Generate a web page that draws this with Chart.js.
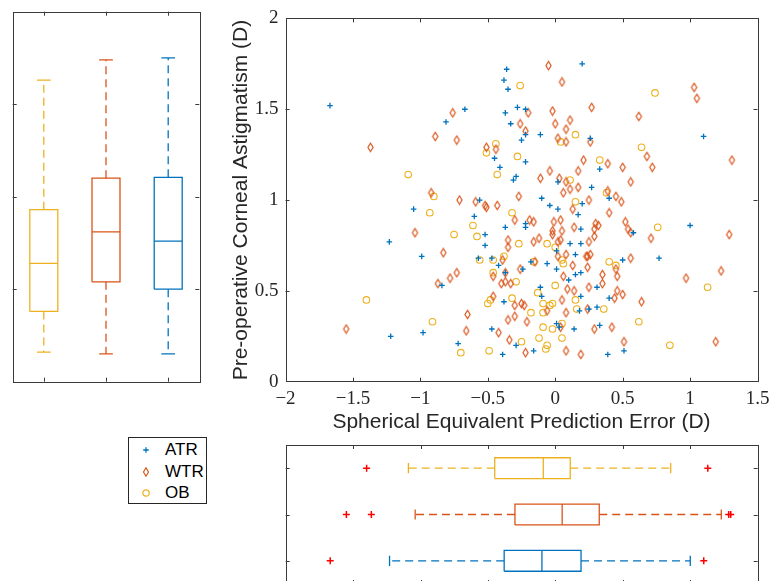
<!DOCTYPE html>
<html>
<head>
<meta charset="utf-8">
<script src="https://cdn.jsdelivr.net/npm/chart.js@4.4.0/dist/chart.umd.min.js"></script>
<style>
  html, body { margin: 0; padding: 0; background: #fff; overflow: hidden; }
  body { width: 773px; height: 581px; position: relative; }
  canvas { position: absolute; }
  #boxLeft { left: 0; top: 0; }
  #scatter { left: 225px; top: 0; }
  #boxBottom { left: 225px; top: 425px; }
  #legend { position: absolute; left: 128px; top: 437px; width: 77px; height: 65px;
            border: 1px solid #262626; background: #fff;
            font: 17px "Liberation Sans", Arial, sans-serif; color: #000; }
  #legend svg { position: absolute; left: 10px; }
  #legend span { position: absolute; left: 36px; line-height: 20px; }
</style>
</head>
<body>
<canvas id="boxLeft" width="215" height="400"></canvas>
<canvas id="scatter" width="548" height="440"></canvas>
<canvas id="boxBottom" width="548" height="160"></canvas>
<div id="legend">
  <svg style="top:5px" width="14" height="14"><path d="M4.2 7H9.8M7 4.2V9.8" stroke="#0072BD" stroke-width="1.3" fill="none"/></svg>
  <span style="top:2px">ATR</span>
  <svg style="top:27px" width="14" height="14"><path d="M7 2.8L9.5 7L7 11.2L4.5 7Z" stroke="#D95319" stroke-width="1.2" fill="none"/></svg>
  <span style="top:24px">WTR</span>
  <svg style="top:48px" width="14" height="14"><circle cx="7" cy="7" r="3.2" stroke="#EDB120" stroke-width="1.2" fill="none"/></svg>
  <span style="top:45px">OB</span>
</div>
<script>
// Scatter data: spherical equivalent prediction error (x) vs corneal astigmatism (y)
const atrX = [-0.36, -0.38, -0.35, -0.67, -0.81, -0.37, -0.28, -0.22, -0.33, -0.22, -0.25, -0.45, -0.22, -0.41,
  -0.29, -0.31, -0.56, -1.67, 0.20, -0.11, 0.26, 0.33, 0.02, 0.27, -0.10, 0.40, 1.10, -1.05, -0.60, -0.22,
  -0.22, -0.37, -0.52, -0.52, -1.23, -0.99, -0.57, -0.47, -0.42, -0.18, -0.24, -0.37, -0.84, -0.38, -0.98,
  -1.22, -0.47, -0.29, -0.72, -0.39, 1.00, 0.77, 0.58, 0.50, 0.40, 0.51, 0.39, 0.31, 0.25, 0.18, 0.14, 0.03,
  0.01, -0.16, -0.10, -0.11, 0.19, 0.31, 0.33, 0.20, -0.04, 0.02, 0.17, 0.19, 0.11, 0.19, 0.01, 0.15, -0.06,
  0.01, 0.15, 0.19, 0.10];
const atrY = [1.72, 1.66, 1.61, 1.50, 1.43, 1.48, 1.51, 1.50, 1.42, 1.36, 1.33, 1.23, 1.21, 1.18,
  1.13, 1.11, 1.00, 1.52, 1.75, 1.36, 1.34, 1.17, 1.10, 1.07, 1.01, 1.01, 1.35, 0.95, 0.91, 0.87,
  0.85, 0.85, 0.81, 0.75, 0.77, 0.69, 0.68, 0.68, 0.64, 0.66, 0.62, 0.60, 0.53, 0.44, 0.27,
  0.25, 0.29, 0.20, 0.21, 0.15, 0.86, 0.68, 0.82, 0.67, 0.46, 0.17, 0.15, 0.41, 0.40, 0.39, 0.29, 0.30,
  0.32, 0.17, 0.47, 0.52, 0.47, 0.52, 0.31, 0.98, 0.97, 0.95, 0.92, 0.84, 0.76, 0.76, 0.72, 0.70, 0.65,
  0.62, 0.59, 0.60, 0.56];

const wtrX = [-0.76, -0.20, -0.26, -0.22, -0.89, -0.73, -0.51, -0.44, -0.92, -0.71, -0.27, -0.59, -1.37, -1.55,
  -0.05, 0.05, -0.02, 0.27, 0.62, 0.00, 0.11, 0.08, 0.02, 0.08, 0.26, 0.68, 0.72, 0.21, 0.39, 0.50, -0.04,
  0.17, -0.11, 0.03, 0.08, 0.56, 0.17, 0.11, 0.06, 0.39, 0.45, 0.25, 0.49, 1.31, 1.03, 1.05,
  -0.52, -0.51, -0.43, -0.30, -0.19, -1.04, -0.35, -0.35, -0.83, -0.39, -0.26, -0.46, -0.37, -0.73, -0.78,
  -0.87, -0.40, -0.37, -0.33, -0.46, -0.30, -0.25, -0.23, -0.65, -0.35, -0.30, -0.21, -0.66, -0.42, -0.34, -0.22,
  1.29, 0.71, 1.23, 0.97, 0.64, 1.19, 0.56, 0.54, 0.52, 0.56, 0.46, 0.45, 0.46, 0.50, 0.44, 0.42, 0.51, 0.29,
  0.24, 0.08, 0.08, 0.19, -0.06, 0.05, 0.09, 0.14, 0.25, 0.35, 0.35, 0.24, 0.24, 0.26,
  0.13, 0.40, -0.16, -0.01, 0.04, 0.14, 0.30, 0.32, 0.29, 0.29, -0.02, -0.02, 0.05, -0.16, -0.12, 0.02, 0.04,
  0.25, 0.02, 0.08, 0.23, -0.15, 0.13, 0.06, 0.04];
const wtrY = [1.48, 1.48, 1.42, 1.38, 1.35, 1.33, 1.29, 1.28, 1.04, 1.00, 1.02, 0.99, 1.29, 0.29,
  1.74, 1.65, 1.49, 1.51, 1.46, 1.42, 1.44, 1.39, 1.34, 1.32, 1.32, 1.24, 1.18, 1.22, 1.20, 1.18, 1.16,
  1.16, 1.12, 1.12, 1.10, 1.10, 1.07, 1.06, 1.04, 1.05, 1.02, 1.00, 0.99, 1.22, 1.62, 1.56,
  0.97, 0.96, 0.97, 0.89, 0.89, 0.82, 0.78, 0.74, 0.71, 0.67, 0.62, 0.58, 0.60, 0.60, 0.57,
  0.54, 0.54, 0.55, 0.54, 0.47, 0.42, 0.43, 0.42, 0.37, 0.34, 0.36, 0.33, 0.28, 0.27, 0.23, 0.16,
  0.81, 0.79, 0.61, 0.57, 0.44, 0.22, 0.68, 0.84, 0.88, 0.82, 0.58, 0.62, 0.50, 0.48, 0.46, 0.30, 0.22, 0.29,
  0.40, 0.38, 0.17, 0.15, 0.39, 0.45, 0.51, 0.50, 0.52, 0.54, 0.59, 0.63, 0.69, 0.70,
  0.95, 0.93, 0.88, 0.88, 0.89, 0.85, 0.87, 0.86, 0.84, 0.80, 0.83, 0.81, 0.83, 0.77, 0.79, 0.77, 0.78,
  0.77, 0.69, 0.70, 0.69, 0.66, 0.64, 0.58, 0.30];

const obX = [-0.26, -0.44, -0.51, -0.28, -1.09, -0.43, -0.90, 0.74, 0.15, 0.04, 0.64, 0.33, 0.11, 0.38, 0.15,
  -1.40, -0.93, -0.32, -0.61, -0.75, -0.58, -0.27, -0.56, -0.46, -0.38, -0.46, -0.29, -0.48, -0.50, -0.32,
  -0.18, -0.91, -0.25, -0.70, -0.49, 0.76, 1.13, 0.62, 0.85, 0.40, 0.45, 0.36, 0.16, 0.05, 0.05, -0.02,
  -0.09, -0.06, -0.07, -0.12, -0.09, -0.09, -0.04, -0.02, -0.13, 0.00, 0.15, -0.06, 0.00, 0.05, 0.06, -0.16];
const obY = [1.63, 1.31, 1.26, 1.24, 1.14, 1.14, 1.02, 1.59, 1.36, 1.32, 1.29, 1.22, 1.11, 1.04, 0.99,
  0.45, 0.93, 0.93, 0.86, 0.81, 0.80, 0.76, 0.67, 0.67, 0.69, 0.60, 0.55, 0.45, 0.43, 0.46,
  0.38, 0.33, 0.22, 0.16, 0.17, 0.85, 0.52, 0.33, 0.20, 0.66, 0.64, 0.40, 0.40, 0.24, 0.32, 0.29,
  0.30, 0.20, 0.18, 0.24, 0.43, 0.38, 0.42, 0.43, 0.49, 0.53, 0.45, 0.76, 0.74, 0.67, 0.65, 0.66];

// Box plot summaries: [lower whisker, q1, median, q3, upper whisker]
const boxGroups = ['OB', 'WTR', 'ATR'];
const astigOB = [0.16, 0.38, 0.64, 0.93, 1.63];
const astigWTR = [0.15, 0.54, 0.81, 1.10, 1.74];
const astigATR = [0.15, 0.50, 0.76, 1.105, 1.75];
const errOB = [-1.09, -0.45, -0.09, 0.11, 0.855];
const errWTR = [-1.04, -0.30, 0.05, 0.325, 1.23];
const errATR = [-1.23, -0.38, -0.10, 0.19, 1.00];
const errOBOut = [-1.40, 1.13];
const errWTROut = [-1.55, -1.365, 1.285, 1.30];
const errATROut = [-1.67, 1.10];

// Tick values
const errTicks = [-2, -1.5, -1, -0.5, 0, 0.5, 1, 1.5];
const astigTicks = [0, 0.5, 1, 1.5, 2];

const COLORS = { ATR: '#0072BD', WTR: '#D95319', OB: '#EDB120' };
const AXIS = '#3a3a3a';
const TXT = '#262626';
const BOX_W = 0.225;
const CAP_W = 0.11;
const TICK_LEN = 4;

// Draws the MATLAB style box with inward ticks on all four sides
const frameTicks = {
    id: 'frameTicks',
    afterDraw(chart) {
        const { ctx, chartArea: a, scales: { x, y } } = chart;
        ctx.save();
        ctx.strokeStyle = AXIS;
        ctx.lineWidth = 1;
        ctx.beginPath();
        x.ticks.forEach(t => {
            const px = Math.round(x.getPixelForValue(t.value)) + 0.5;
            if (px <= a.left + 1 || px >= a.right - 1) return;
            ctx.moveTo(px, a.top); ctx.lineTo(px, a.top + TICK_LEN);
            ctx.moveTo(px, a.bottom); ctx.lineTo(px, a.bottom - TICK_LEN);
        });
        y.ticks.forEach(t => {
            const py = Math.round(y.getPixelForValue(t.value)) + 0.5;
            if (py <= a.top + 1 || py >= a.bottom - 1) return;
            ctx.moveTo(a.left, py); ctx.lineTo(a.left + TICK_LEN, py);
            ctx.moveTo(a.right, py); ctx.lineTo(a.right - TICK_LEN, py);
        });
        ctx.stroke();
        ctx.strokeRect(Math.round(a.left) + 0.5, Math.round(a.top) + 0.5,
            Math.round(a.right - a.left), Math.round(a.bottom - a.top));
        ctx.restore();
    }
};

// Narrow diamond like MATLAB's 'd' marker
function diamondMarker(color) {
    const c = document.createElement('canvas');
    c.width = 9; c.height = 11;
    const g = c.getContext('2d');
    g.strokeStyle = color;
    g.lineWidth = 1.2;
    g.beginPath();
    g.moveTo(4.5, 1.3); g.lineTo(7.1, 5.5); g.lineTo(4.5, 9.7); g.lineTo(1.9, 5.5);
    g.closePath();
    g.stroke();
    return c;
}

function toPoints(xs, ys) {
    return xs.map((x, i) => ({ x, y: ys[i] }));
}

// Box, median, dashed whiskers and caps as line datasets
function boxDatasets(stats, pos, color, horizontal) {
    const [lo, q1, med, q3, hi] = stats;
    const pt = (p, v) => horizontal ? { x: v, y: p } : { x: p, y: v };
    const line = (pts, dash) => ({
        data: pts, showLine: true, borderColor: color, borderWidth: 1.3,
        borderDash: dash || [], pointRadius: 0, pointHoverRadius: 0, fill: false
    });
    return [
        line([pt(pos, q3), pt(pos, hi)], [8, 5]),
        line([pt(pos, q1), pt(pos, lo)], [8, 5]),
        line([pt(pos - CAP_W, hi), pt(pos + CAP_W, hi)]),
        line([pt(pos - CAP_W, lo), pt(pos + CAP_W, lo)]),
        line([pt(pos - BOX_W, q1), pt(pos + BOX_W, q1), pt(pos + BOX_W, q3), pt(pos - BOX_W, q3), pt(pos - BOX_W, q1)]),
        line([pt(pos - BOX_W, med), pt(pos + BOX_W, med)])
    ];
}

function outlierDataset(values, pos) {
    return {
        data: values.map(v => ({ x: v, y: pos })),
        pointStyle: 'cross', pointRadius: 3.5, borderColor: '#FF0000', borderWidth: 1.5, showLine: false
    };
}

const serif = { family: '"Liberation Serif", "Times New Roman", serif', size: 19 };
const serifX = { ...serif, lineHeight: 1.5 };
const sans = { family: '"Liberation Sans", Arial, sans-serif', size: 21 };
const fmt = v => String(v).replace('-', '\u2212');

function baseOptions(padding) {
    return {
        responsive: false,
        animation: false,
        events: [],
        layout: { padding, autoPadding: false },
        plugins: { legend: { display: false }, tooltip: { enabled: false } }
    };
}

// Left: astigmatism box plots (vertical)
const leftStats = [astigOB, astigWTR, astigATR];
new Chart(document.getElementById('boxLeft'), {
    type: 'scatter',
    data: {
        datasets: leftStats.flatMap((s, i) => boxDatasets(s, i + 1, COLORS[boxGroups[i]], false))
    },
    options: {
        ...baseOptions({ top: 11.7, right: 15.7, left: 0, bottom: 0 }),
        scales: {
            x: {
                type: 'linear', min: 0.5, max: 3.5,
                grid: { display: false, drawTicks: false }, border: { display: false },
                ticks: { display: false },
                afterBuildTicks: s => { s.ticks = [1, 2, 3].map(v => ({ value: v })); },
                afterFit: s => { s.height = 18.3; }
            },
            y: {
                min: 0, max: 2,
                grid: { display: false, drawTicks: false }, border: { display: false },
                ticks: { display: false },
                afterBuildTicks: s => { s.ticks = astigTicks.map(v => ({ value: v })); },
                afterFit: s => { s.width = 12.7; }
            }
        }
    },
    plugins: [frameTicks]
});

// Main scatter
new Chart(document.getElementById('scatter'), {
    type: 'scatter',
    data: {
        datasets: [
            { label: 'ATR', data: toPoints(atrX, atrY), pointStyle: 'cross', pointRadius: 2.8,
              borderColor: COLORS.ATR, borderWidth: 1.3 },
            { label: 'WTR', data: toPoints(wtrX, wtrY), pointStyle: diamondMarker(COLORS.WTR), pointRadius: 4,
              borderColor: COLORS.WTR },
            { label: 'OB', data: toPoints(obX, obY), pointStyle: 'circle', pointRadius: 3.3,
              borderColor: COLORS.OB, backgroundColor: 'rgba(0,0,0,0)', borderWidth: 1.1 }
        ]
    },
    options: {
        ...baseOptions({ top: 11.7, right: 15.5, left: 0, bottom: 0 }),
        scales: {
            x: {
                type: 'linear', min: -2, max: 1.5,
                grid: { display: false, drawTicks: false }, border: { display: false },
                afterBuildTicks: s => { s.ticks = errTicks.map(v => ({ value: v })); },
                ticks: { font: serifX, color: TXT, padding: 3, callback: fmt, maxRotation: 0 },
                title: { display: true, text: 'Spherical Equivalent Prediction Error (D)', font: sans,
                         color: TXT, padding: { top: 0, bottom: 5.4 } },
                afterFit: s => { s.height = 58.3; }
            },
            y: {
                min: 0, max: 2,
                grid: { display: false, drawTicks: false }, border: { display: false },
                afterBuildTicks: s => { s.ticks = astigTicks.map(v => ({ value: v })); },
                ticks: { font: serif, color: TXT, padding: 7, callback: fmt },
                title: { display: true, text: 'Pre-operative Corneal Astigmatism (D)', font: sans,
                         color: TXT, padding: { top: 3.4, bottom: 0 } },
                afterFit: s => { s.width = 60.5; }
            }
        }
    },
    plugins: [frameTicks]
});

// Bottom: prediction error box plots (horizontal), OB on top
const bottomStats = [errOB, errWTR, errATR];
const bottomOut = [errOBOut, errWTROut, errATROut];
new Chart(document.getElementById('boxBottom'), {
    type: 'scatter',
    data: {
        datasets: [
            ...bottomStats.flatMap((s, i) => boxDatasets(s, 3 - i, COLORS[boxGroups[i]], true)),
            ...bottomOut.map((o, i) => outlierDataset(o, 3 - i))
        ]
    },
    options: {
        ...baseOptions({ top: 20, right: 15.3, left: 0, bottom: 0 }),
        scales: {
            x: {
                type: 'linear', min: -2, max: 1.5,
                grid: { display: false, drawTicks: false }, border: { display: false },
                ticks: { display: false },
                afterBuildTicks: s => { s.ticks = errTicks.map(v => ({ value: v })); },
                afterFit: s => { s.height = 1; }
            },
            y: {
                min: 0.5, max: 3.5,
                grid: { display: false, drawTicks: false }, border: { display: false },
                ticks: { display: false },
                afterBuildTicks: s => { s.ticks = [1, 2, 3].map(v => ({ value: v })); },
                afterFit: s => { s.width = 60.7; }
            }
        }
    },
    plugins: [frameTicks]
});
</script>
</body>
</html>
